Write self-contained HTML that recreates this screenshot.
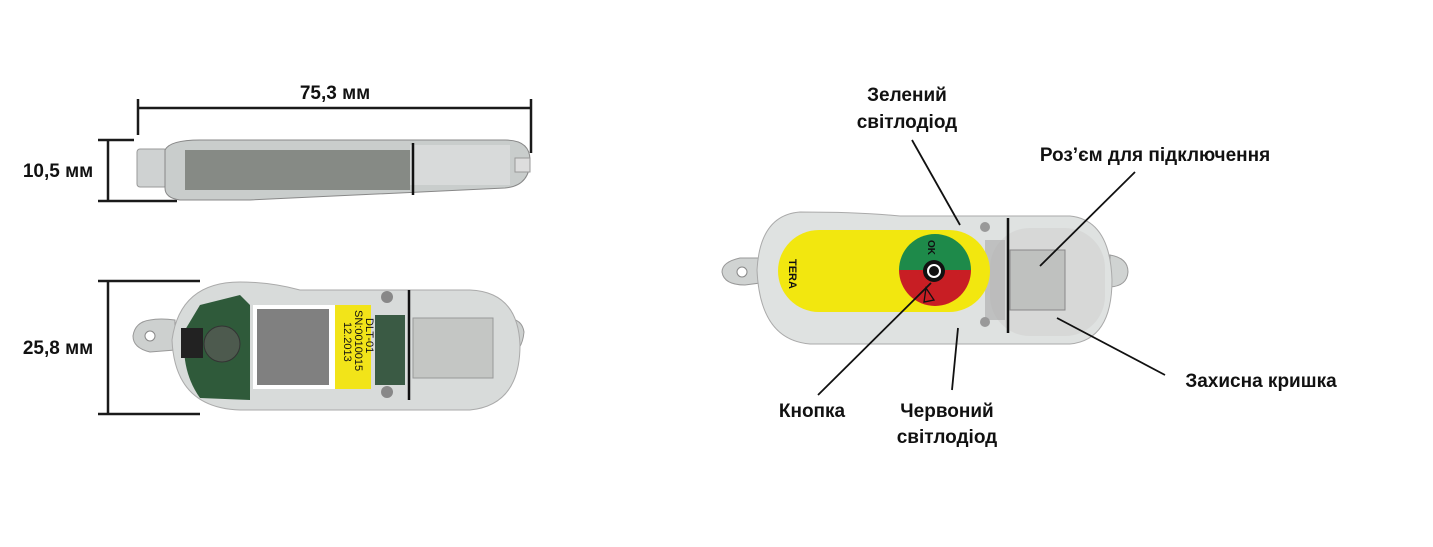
<!DOCTYPE html>
<html><head><meta charset="utf-8"><style>
html,body{margin:0;padding:0;background:#fff;width:1433px;height:547px;overflow:hidden}
text{font-family:"Liberation Sans",sans-serif;font-weight:bold;font-size:19px;fill:#111}
</style></head><body>
<svg width="1433" height="547" viewBox="0 0 1433 547" xmlns="http://www.w3.org/2000/svg">
<g stroke="#1a1a1a" stroke-width="2.5" fill="none">
<line x1="138" y1="108" x2="531" y2="108"/>
<line x1="138" y1="99" x2="138" y2="135"/>
<line x1="531" y1="99" x2="531" y2="153"/>
<line x1="108" y1="140" x2="108" y2="201"/>
<line x1="98" y1="140" x2="134" y2="140"/>
<line x1="98" y1="201" x2="177" y2="201"/>
<line x1="108" y1="281" x2="108" y2="414"/>
<line x1="98" y1="281" x2="200" y2="281"/>
<line x1="98" y1="414" x2="200" y2="414"/>
</g>
<text x="335" y="99" text-anchor="middle">75,3 мм</text>
<text x="58" y="177" text-anchor="middle">10,5 мм</text>
<text x="58" y="354" text-anchor="middle">25,8 мм</text>

<rect x="137" y="149" width="30" height="38" rx="3" fill="#cfd2d2" stroke="#999"/>
<path d="M165 150 Q170 140 200 140 L505 140 Q530 140 530 160 Q530 186 505 188 L250 200 L180 200 Q165 198 165 188 Z" fill="#c9cdcc" stroke="#888"/>
<rect x="185" y="150" width="225" height="40" fill="#6a6e66" opacity="0.7"/>
<rect x="410" y="145" width="100" height="40" fill="#d8dada"/>
<line x1="413" y1="143" x2="413" y2="195" stroke="#111" stroke-width="2.5"/>
<rect x="515" y="158" width="15" height="14" fill="#ddd" stroke="#999"/>

<path d="M150 320 Q160 318 175 320 L175 350 L150 352 Q133 348 133 336 Q135 322 150 320Z" fill="#cdd0cf" stroke="#999"/>
<circle cx="150" cy="336" r="5" fill="#fff" stroke="#888"/>
<path d="M505 318 Q522 318 524 332 Q522 354 505 356Z" fill="#cdd0cf" stroke="#999"/>
<path d="M240 282 Q180 282 172 340 Q175 408 240 410 L470 410 Q520 405 520 345 Q518 292 470 290 L300 290 Q270 282 240 282Z" fill="#d8dbda" stroke="#aaa"/>
<path d="M200 305 L240 295 L250 305 L250 400 L200 398 Q180 370 185 330Z" fill="#2f5a3a"/>
<rect x="181" y="328" width="22" height="30" fill="#222"/>
<circle cx="222" cy="344" r="18" fill="#4d5a4e" stroke="#333"/>
<rect x="253" y="305" width="82" height="84" fill="#fff"/>
<rect x="257" y="309" width="72" height="76" fill="#555" opacity="0.75"/>
<rect x="335" y="305" width="36" height="84" fill="#f2e419"/>
<text transform="translate(366,318) rotate(90)" style="font-size:11px;font-weight:normal">DLT-01</text>
<text transform="translate(355,310) rotate(90)" style="font-size:11px;font-weight:normal">SN:0010015</text>
<text transform="translate(344,322) rotate(90)" style="font-size:11px;font-weight:normal">12.2013</text>
<rect x="375" y="315" width="30" height="70" fill="#3a5a44"/>
<circle cx="387" cy="297" r="6" fill="#888"/><circle cx="387" cy="392" r="6" fill="#888"/>
<line x1="409" y1="290" x2="409" y2="400" stroke="#111" stroke-width="2.5"/>
<rect x="413" y="318" width="80" height="60" fill="#c4c6c4" stroke="#999"/>

<path d="M740 258 Q722 262 722 272 Q724 285 745 285 L760 283 L760 258Z" fill="#d0d3d2" stroke="#999"/>
<circle cx="742" cy="272" r="5" fill="#fff" stroke="#888"/>
<path d="M1110 255 Q1128 258 1128 272 Q1127 286 1110 287Z" fill="#d0d3d2" stroke="#999"/>
<path d="M800 212 Q760 215 757 270 Q760 340 810 344 L1070 344 Q1112 340 1112 280 Q1110 220 1070 216 L900 216 Q860 212 800 212Z" fill="#dfe2e1" stroke="#aaa"/>
<rect x="990" y="228" width="115" height="108" rx="40" fill="#d4d6d5" opacity="0.8"/>
<rect x="1010" y="250" width="55" height="60" fill="#bfc1bf" stroke="#888"/>
<rect x="985" y="240" width="20" height="80" fill="#aaa" opacity="0.6"/>
<line x1="1008" y1="218" x2="1008" y2="333" stroke="#111" stroke-width="2.5"/>
<circle cx="985" cy="227" r="5" fill="#999"/><circle cx="985" cy="322" r="5" fill="#999"/>
<rect x="778" y="230" width="212" height="82" rx="41" fill="#f2e70f"/>
<path d="M899 270 A36 36 0 0 1 971 270 Z" fill="#1e8a4a"/>
<path d="M899 270 A36 36 0 0 0 971 270 Z" fill="#c81e24"/>
<circle cx="934" cy="271" r="11" fill="#111"/>
<circle cx="934" cy="271" r="6" fill="none" stroke="#fff" stroke-width="2"/>
<text transform="translate(928,240) rotate(90)" style="font-size:10px">OK</text>
<text transform="translate(789,259) rotate(90)" style="font-size:11px">TERA</text>
<path d="M926 288 L934 300 L924 302Z" fill="none" stroke="#111" stroke-width="1.3"/>

<g stroke="#111" stroke-width="1.8">
<line x1="912" y1="140" x2="960" y2="225"/>
<line x1="1135" y1="172" x2="1040" y2="266"/>
<line x1="1165" y1="375" x2="1057" y2="318"/>
<line x1="818" y1="395" x2="931" y2="283"/>
<line x1="952" y1="390" x2="958" y2="328"/>
</g>
<text x="907" y="101" text-anchor="middle">Зелений</text>
<text x="907" y="128" text-anchor="middle">світлодіод</text>
<text x="1155" y="161" text-anchor="middle">Роз’єм для підключення</text>
<text x="1261" y="387" text-anchor="middle">Захисна кришка</text>
<text x="812" y="417" text-anchor="middle">Кнопка</text>
<text x="947" y="417" text-anchor="middle">Червоний</text>
<text x="947" y="443" text-anchor="middle">світлодіод</text>
</svg>
</body></html>
